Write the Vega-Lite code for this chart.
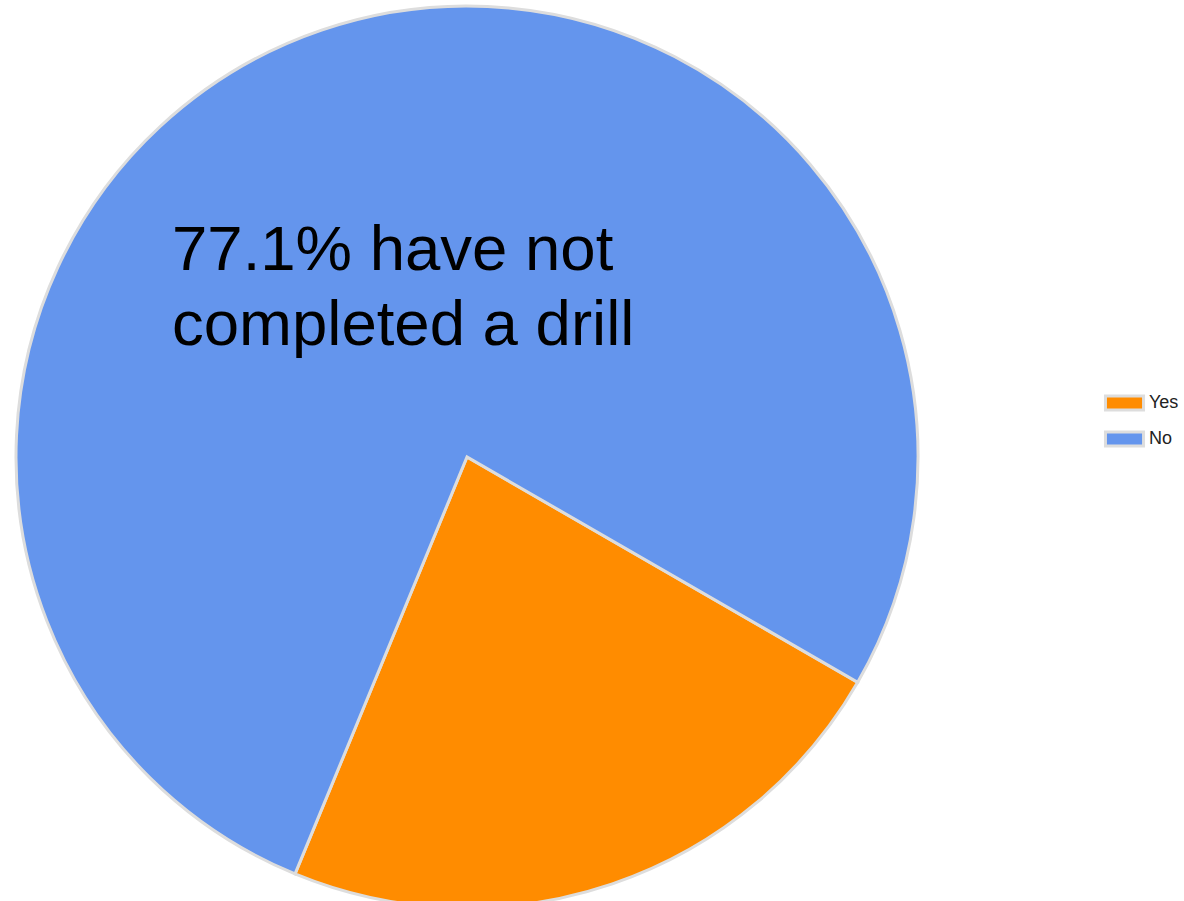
{
  "$schema": "https://vega.github.io/schema/vega-lite/v6.json",
  "width": 934,
  "height": 910,
  "padding": 0,
  "autosize": {"type": "pad"},
  "background": "white",
  "config": {"view": {"stroke": null}},
  "title": {
    "text": ["77.1% have not", "completed a drill"],
    "font": "Liberation Sans",
    "fontSize": 63.5,
    "fontWeight": "normal",
    "color": "black",
    "anchor": "start",
    "frame": "group",
    "baseline": "top",
    "lineHeight": 75,
    "orient": "top",
    "offset": 0,
    "dx": 172,
    "dy": 358
  },
  "data": {
    "values": [
      {"answer": "Yes", "percent": 22.9, "rank": 1},
      {"answer": "No", "percent": 77.1, "rank": 2}
    ]
  },
  "mark": {"type": "arc", "outerRadius": 451, "stroke": "#dddddd", "strokeWidth": 3},
  "encoding": {
    "theta": {
      "field": "percent",
      "type": "quantitative",
      "stack": true,
      "scale": {"range": [2.094, 8.377]}
    },
    "order": {"field": "rank", "type": "quantitative"},
    "color": {
      "field": "answer",
      "type": "nominal",
      "sort": ["Yes", "No"],
      "scale": {"domain": ["Yes", "No"], "range": ["#FF8C00", "#6495ED"]},
      "legend": {
        "title": null,
        "orient": "none",
        "legendX": 1115.5,
        "legendY": 392,
        "padding": 0,
        "symbolType": "M-2.72,-1H2.72V1H-2.72Z",
        "symbolSize": 196,
        "symbolStrokeColor": "#dddddd",
        "symbolStrokeWidth": 3,
        "symbolOpacity": 1,
        "labelFont": "Liberation Sans",
        "labelFontSize": 18,
        "labelColor": "#222222",
        "labelOffset": 15.5,
        "rowPadding": 10
      }
    }
  }
}
